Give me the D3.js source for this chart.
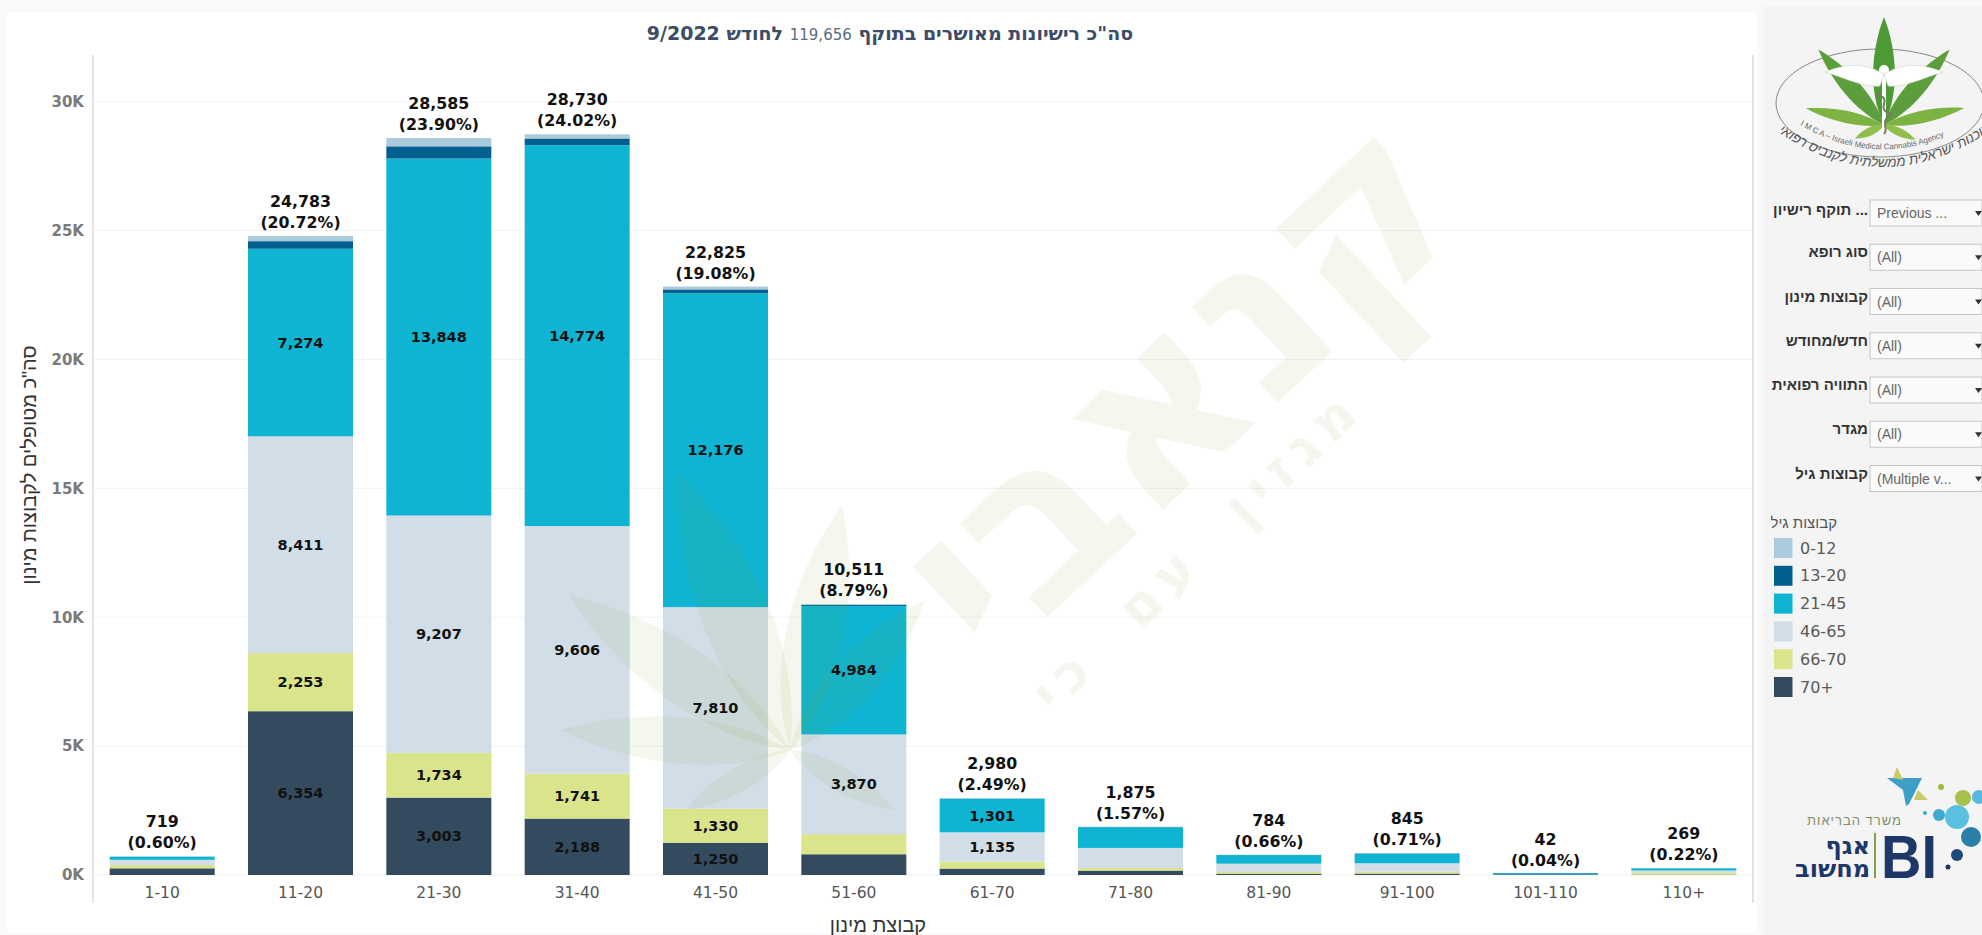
<!DOCTYPE html>
<html><head><meta charset="utf-8">
<script src="https://cdnjs.cloudflare.com/ajax/libs/d3/7.8.5/d3.min.js"></script>
<style>html,body{margin:0;padding:0;background:#f9f9f9;overflow:hidden}svg{display:block}</style>
</head><body><svg id="c" width="1982" height="935"></svg>
<script>
const doseGroups = ["1-10","11-20","21-30","31-40","41-50","51-60","61-70","71-80","81-90","91-100","101-110","110+"];
const ageGroups = ["0-12","13-20","21-45","46-65","66-70","70+"];
const ageColors = ["#a9cbdb","#045f91","#0eb4d1","#d1dde7","#d9e48b","#344b5f"];
const age0_12  = [8,198,320,160,110,26,16,15,6,8,3,5];
const age13_20 = [5,293,473,261,149,48,8,10,8,12,5,4];
const age21_45 = [116,7274,13848,14774,12176,4984,1301,800,330,370,20,85];
const age46_65 = [200,8411,9207,9606,7810,3870,1135,780,320,320,10,90];
const age66_70 = [130,2253,1734,1741,1330,778,270,100,70,80,2,70];
const age70plus = [260,6354,3003,2188,1250,805,250,170,50,55,2,15];
const totals = [719,24783,28585,28730,22825,10511,2980,1875,784,845,42,269];
const percents = ["0.60%","20.72%","23.90%","24.02%","19.08%","8.79%","2.49%","1.57%","0.66%","0.71%","0.04%","0.22%"];
const yTicks = [0,5000,10000,15000,20000,25000,30000];
const filterLabels = ["... תוקף רישיון","סוג רופא","קבוצות מינון","חדש/מחודש","התוויה רפואית","מגדר","קבוצות גיל"];
const filterValues = ["Previous ...","(All)","(All)","(All)","(All)","(All)","(Multiple v..."];

const svg = d3.select("#c");
const LAT = "DejaVu Sans, Verdana, sans-serif";
const HEB = "Liberation Sans, Arial, sans-serif";

// panels
svg.append("rect").attr("x",7).attr("y",12).attr("width",1750).attr("height",921).attr("fill","#fff");
svg.append("rect").attr("x",1764).attr("y",6).attr("width",218).attr("height",929).attr("fill","#f4f4f4");

const x = d3.scaleBand().domain(doseGroups).range([93,1753]).paddingInner(0.241).paddingOuter(0.1205);
const y = d3.scaleLinear().domain([0,30000]).range([875,101.6]);

// grid
svg.append("g").selectAll("line").data(yTicks).join("line")
  .attr("x1",93).attr("x2",1753).attr("y1",d=>y(d)).attr("y2",d=>y(d))
  .attr("stroke","#f1f1f1").attr("stroke-width",1);

// rows for stack
const rows = doseGroups.map((g,i)=>({group:g,"0-12":age0_12[i],"13-20":age13_20[i],"21-45":age21_45[i],"46-65":age46_65[i],"66-70":age66_70[i],"70+":age70plus[i]}));
const stackKeys = ageGroups.slice().reverse();
const stacked = d3.stack().keys(stackKeys)(rows);
const color = d3.scaleOrdinal().domain(ageGroups).range(ageColors);

const layers = svg.append("g").selectAll("g").data(stacked).join("g").attr("fill",s=>color(s.key));
layers.selectAll("rect").data(s=>s.map(d=>Object.assign({},{d0:d[0],d1:d[1],g:d.data.group}))).join("rect")
  .attr("x",d=>x(d.g)).attr("width",x.bandwidth())
  .attr("y",d=>y(d.d1)).attr("height",d=>Math.max(0,y(d.d0)-y(d.d1)));
// 101-110 is only a hairline in the reference: keep it visible
svg.append("rect").attr("x",x("101-110")).attr("width",x.bandwidth())
  .attr("y",y(42)-1).attr("height",2).attr("fill","#3f9dbc");

// watermark
const wm = svg.append("g").attr("pointer-events","none").attr("fill","#7fa832").attr("fill-opacity",0.085);
wm.append("text").attr("transform","translate(1232,445) rotate(-43)")
  .attr("text-anchor","middle").attr("direction","rtl")
  .attr("font-family",LAT).attr("font-weight",700).attr("font-size",235).text("קנאבי");
wm.append("text").attr("transform","translate(1210,563) rotate(-44)")
  .attr("text-anchor","middle").attr("direction","rtl").style("letter-spacing","10px").style("word-spacing","25px")
  .attr("font-family",LAT).attr("font-weight",700).attr("font-size",54).text("מגזין עם כי");
const blade = (len,w)=>`M0,0 C${len*.3},${-w} ${len*.7},${-w*.8} ${len},0 C${len*.7},${w*.8} ${len*.3},${w} 0,0Z`;
const leaf = wm.append("g").attr("transform","translate(790,750)");
[[-175,230,34],[-145,270,42],[-112,300,50],[-78,250,42],[-48,200,34],[150,120,18],[30,120,18]].forEach(b=>{
  leaf.append("path").attr("d",blade(b[1],b[2])).attr("transform",`rotate(${b[0]})`);
});

// axes
const yAxis = svg.append("g").attr("transform","translate(93,0)")
  .call(d3.axisLeft(y).tickValues(yTicks).tickFormat(d=>(d/1000)+"K").tickSize(0).tickPadding(9));
yAxis.select(".domain").remove();
yAxis.selectAll("text").attr("font-family",LAT).attr("font-weight",700).attr("font-size",15).attr("fill","#7a7a7a");
const xAxis = svg.append("g").attr("transform","translate(0,885)")
  .call(d3.axisBottom(x).tickSize(0).tickPadding(2));
xAxis.select(".domain").remove();
xAxis.selectAll("text").attr("font-family",LAT).attr("font-size",15.5).attr("fill","#555");
svg.append("line").attr("x1",93).attr("x2",93).attr("y1",55).attr("y2",903).attr("stroke","#dcdcdc").attr("stroke-width",1.5);
svg.append("line").attr("x1",1753).attr("x2",1753).attr("y1",55).attr("y2",903).attr("stroke","#d9d9d9").attr("stroke-width",1.5);

// segment labels
const segLabels = [];
stacked.forEach(s=>s.forEach((d,i)=>{ if(d[1]-d[0]>=1000) segLabels.push({g:d.data.group,v:d[1]-d[0],m:(d[0]+d[1])/2}); }));
svg.append("g").selectAll("text").data(segLabels).join("text")
  .attr("x",d=>x(d.g)+x.bandwidth()/2).attr("y",d=>y(d.m)+5).attr("text-anchor","middle")
  .attr("font-family",LAT).attr("font-weight",700).attr("font-size",14.5).attr("fill","#111")
  .text(d=>d3.format(",")(d.v));

// totals
const tot = svg.append("g").selectAll("g").data(doseGroups).join("g")
  .attr("font-family",LAT).attr("font-weight",700).attr("font-size",15.8).attr("fill","#111").attr("text-anchor","middle");
tot.append("text").attr("x",d=>x(d)+x.bandwidth()/2).attr("y",(d,i)=>y(totals[i])-29).text((d,i)=>d3.format(",")(totals[i]));
tot.append("text").attr("x",d=>x(d)+x.bandwidth()/2).attr("y",(d,i)=>y(totals[i])-8).text((d,i)=>"("+percents[i]+")");

// title
const t = svg.append("text").attr("x",890).attr("y",40).attr("text-anchor","middle").attr("direction","rtl")
  .attr("font-family",LAT).attr("font-weight",700).attr("font-size",19).attr("fill","#3b4d69");
t.append("tspan").text('סה"כ רישיונות מאושרים בתוקף ');
t.append("tspan").attr("font-weight",400).attr("font-size",15).attr("fill","#5a6a80").text("119,656");
t.append("tspan").text(" לחודש 9/2022");

// axis titles
svg.append("text").attr("transform","translate(36,465) rotate(-90)").attr("text-anchor","middle").attr("direction","rtl")
  .attr("font-family",HEB).attr("font-size",20).attr("fill","#333").text('סה"כ מטופלים לקבוצות מינון');
svg.append("text").attr("x",878).attr("y",932).attr("text-anchor","middle").attr("direction","rtl")
  .attr("font-family",HEB).attr("font-size",20).attr("fill","#333").text("קבוצת מינון");

// filters
const fy = d3.scaleLinear().domain([0,6]).range([200,465.5]);
const f = svg.append("g").selectAll("g").data(filterLabels).join("g").attr("transform",(d,i)=>`translate(0,${fy(i)})`);
f.append("rect").attr("x",1870).attr("y",0).attr("width",112).attr("height",26).attr("fill","#fafafa").attr("stroke","#c6c6c6");
f.append("text").attr("x",1877).attr("y",18).attr("font-family",HEB).attr("font-size",14).attr("fill","#666").text((d,i)=>filterValues[i]);
f.append("path").attr("d","M1975,11 l7,0 l-3.5,5z").attr("fill","#333");
f.append("text").attr("x",1868).attr("y",(d,i)=>i==0?15:13).attr("text-anchor","start").attr("direction","rtl")
  .attr("font-family",HEB).attr("font-weight",700).attr("font-size",15).attr("fill","#333").text(d=>d);

// legend
svg.append("text").attr("x",1837).attr("y",528).attr("text-anchor","start").attr("direction","rtl")
  .attr("font-family",HEB).attr("font-size",15).attr("fill","#555").text("קבוצות גיל");
const ly = d3.scaleLinear().domain([0,5]).range([538,677]);
const lg = svg.append("g").selectAll("g").data(ageGroups).join("g").attr("transform",(d,i)=>`translate(1774,${ly(i)})`);
lg.append("rect").attr("width",18.5).attr("height",20).attr("fill",d=>color(d));
lg.append("text").attr("x",26).attr("y",15.5).attr("font-family",LAT).attr("font-size",16).attr("fill","#5a5a5a").text(d=>d);

// IMCA logo
const defs = svg.append("defs");
defs.append("clipPath").attr("id","side").append("rect").attr("x",1764).attr("y",6).attr("width",218).attr("height",929);
const logo = svg.append("g").attr("clip-path","url(#side)");
logo.append("ellipse").attr("cx",1880).attr("cy",103).attr("rx",104).attr("ry",54).attr("fill","none").attr("stroke","#888").attr("stroke-width",1);
const lf = logo.append("g").attr("transform","translate(1884,125)");
[[-90,108,16,"#4e9a36"],[-131,100,13,"#5d9e3c"],[-49,100,13,"#5d9e3c"],[-168,80,9,"#7cb342"],[-12,82,9,"#7cb342"],[-205,32,6,"#8fbf4a"],[25,35,6,"#8fbf4a"]].forEach(b=>{
  lf.append("path").attr("d",blade(b[1],b[2])).attr("transform",`rotate(${b[0]})`).attr("fill",b[3]);
});
logo.append("line").attr("x1",1884).attr("x2",1884).attr("y1",68).attr("y2",135).attr("stroke","#fff").attr("stroke-width",4);
logo.append("circle").attr("cx",1884).attr("cy",70).attr("r",5).attr("fill","#fff");
logo.append("path").attr("d","M1884,74 C1860,60 1840,66 1825,72 C1845,78 1865,88 1880,86Z M1884,74 C1908,60 1928,66 1943,72 C1923,78 1903,88 1888,86Z").attr("fill","#fff").attr("stroke","#c8d8c0").attr("stroke-width",.6);
logo.append("path").attr("d","M1876,94 C1896,100 1872,108 1892,114 C1878,122 1890,128 1884,134").attr("fill","none").attr("stroke","#6f7f5f").attr("stroke-width",2);
defs.append("path").attr("id","arcE").attr("d","M1800,125 Q1885,175 1972,122");
defs.append("path").attr("id","arcH").attr("d","M1772,128 Q1880,205 1992,130");
logo.append("text").attr("font-family",HEB).attr("font-size",8).attr("fill","#666").append("textPath").attr("href","#arcE").text("I M C A – Israeli Medical Cannabis Agency");
logo.append("text").attr("font-family",HEB).attr("font-size",13.5).attr("font-style","italic").attr("fill","#555").attr("direction","rtl")
  .append("textPath").attr("href","#arcH").attr("startOffset","100%").attr("text-anchor","start").text("סוכנות ישראלית ממשלתית לקנביס רפואי");

// BI logo
const bi = svg.append("g").attr("clip-path","url(#side)");
bi.append("text").attr("x",1881).attr("y",878).attr("font-family","Liberation Sans, Arial").attr("font-weight",700).attr("font-size",62).attr("fill","#1c3768").attr("textLength",56).attr("lengthAdjust","spacingAndGlyphs").text("BI");
bi.append("line").attr("x1",1875).attr("x2",1875).attr("y1",833).attr("y2",878).attr("stroke","#7fa04a").attr("stroke-width",2);
bi.append("text").attr("x",1870).attr("y",854).attr("text-anchor","start").attr("direction","rtl").attr("font-family",LAT).attr("font-weight",700).attr("font-size",24).attr("fill","#1c3768").text("אגף");
bi.append("text").attr("x",1870).attr("y",877).attr("text-anchor","start").attr("direction","rtl").attr("font-family",LAT).attr("font-weight",700).attr("font-size",24).attr("fill","#1c3768").text("מחשוב");
bi.append("text").attr("x",1902).attr("y",825).attr("text-anchor","start").attr("direction","rtl").attr("font-family",HEB).attr("font-size",13).attr("fill","#7f8f6a").style("letter-spacing","1px").text("משרד הבריאות");
[[1957,817,12,"#5bbfe0"],[1939,815,6,"#3fa9d0"],[1925,813,2,"#3fa9d0"],[1971,837,10,"#2a7ea8"],[1957,855,6,"#1d4a7a"],[1948,867,2.5,"#1c3768"],[1963,798,8,"#a6c24c"],[1941,787,3,"#9cbb48"],[1979,797,7,"#55b8dc"]].forEach(c=>{
  bi.append("circle").attr("cx",c[0]).attr("cy",c[1]).attr("r",c[2]).attr("fill",c[3]);
});
bi.append("path").attr("d","M1887,778 L1922,778 L1909,804 L1906,806 L1903,790Z").attr("fill","#3d9fc8");
bi.append("path").attr("d","M1897,767 L1903,780 L1893,778Z M1918,790 L1928,800 L1914,800Z").attr("fill","#c9c86a");
</script></body></html>
